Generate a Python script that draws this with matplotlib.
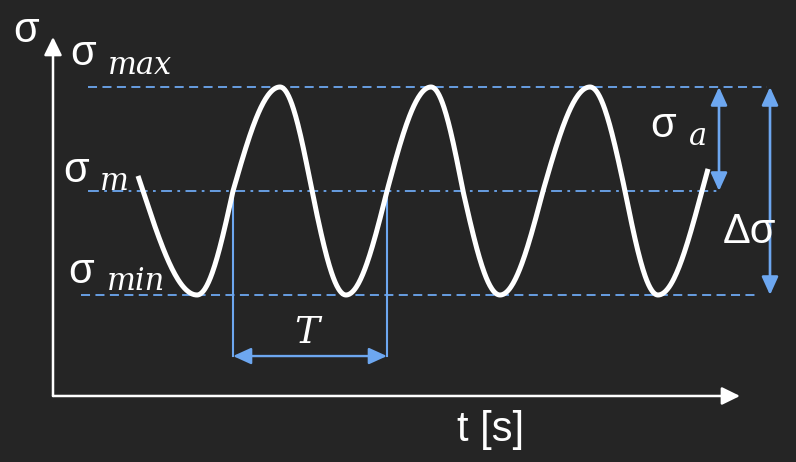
import matplotlib.pyplot as plt
import numpy as np
from matplotlib.patches import FancyArrowPatch, ArrowStyle

# puntos clave de la onda (tiempo, tension): extremos y cruces con sigma_m
wave_t = [143, 197, 233, 280, 312, 346, 387, 431, 463, 500, 543, 590, 625, 658, 702]
wave_s = [0, -1, 0, 1, 0, -1, 0, 1, 0, -1, 0, 1, 0, -1, 0]
t_start, t_stop = 138, 708

sigma_max, sigma_m, sigma_min = 1.0, 0.0, -1.0
T_start, T_end = 233, 387

bg = '#252525'
blue = '#6DA7F0'
white = 'white'


def quarter(t0, t1, s0, s1, t):
    # cuarto de seno entre un cruce y un extremo (o al reves)
    if s0 == 0:
        return s1 * np.sin((t - t0) / (t1 - t0) * np.pi / 2)
    return s0 * np.cos((t - t0) / (t1 - t0) * np.pi / 2)


tt, ss = [], []
for i in range(len(wave_t) - 1):
    t0, t1 = wave_t[i], wave_t[i + 1]
    a = t_start if i == 0 else t0
    b = t_stop if i == len(wave_t) - 2 else t1
    t = np.linspace(a, b, 60)
    s = quarter(t0, t1, wave_s[i], wave_s[i + 1], t)
    if i == len(wave_t) - 2:
        # ultimo tramo: sube desde el minimo y pasa un poco el cruce
        s = np.where(t > t1, np.sin((t - t1) / (t1 - t0) * np.pi / 2), s)
    tt.append(t)
    ss.append(s)
tt = np.concatenate(tt)
ss = np.concatenate(ss)

fig = plt.figure(figsize=(7.96, 4.62), dpi=100, facecolor=bg)
ax = fig.add_axes([0, 0, 1, 1])
ax.set_facecolor(bg)
ax.set_xlim(0, 796)
ax.set_ylim(-2.6058, 1.8365)
ax.axis('off')

# ejes con flechas
t0_axis, s0_axis = 53, -1.971
t_arrow, s_arrow = 740, 1.481
ejes = ArrowStyle('-|>', head_length=11, head_width=5.4)
ax.add_patch(FancyArrowPatch((t0_axis, s0_axis), (t0_axis, s_arrow), arrowstyle=ejes,
                             mutation_scale=1, color=white, lw=1.8, shrinkA=0, shrinkB=0))
ax.add_patch(FancyArrowPatch((t0_axis, s0_axis), (t_arrow, s0_axis), arrowstyle=ejes,
                             mutation_scale=1, color=white, lw=1.8, shrinkA=0, shrinkB=0))

# lineas de referencia
ax.plot([88, 767], [sigma_max, sigma_max], color=blue, lw=1.3, ls=(0, (5, 3)))
ax.plot([88, 719], [sigma_m, sigma_m], color=blue, lw=1.3, ls=(0, (6, 3, 1.5, 3)))
ax.plot([81, 757], [sigma_min, sigma_min], color=blue, lw=1.3, ls=(0, (5, 3)))

# periodo T
s_T = -1.587
ax.plot([T_start, T_start], [sigma_m, s_T], color=blue, lw=1.5)
ax.plot([T_end, T_end], [sigma_m, s_T], color=blue, lw=1.5)
flecha = ArrowStyle('<|-|>', head_length=11, head_width=5)
ax.add_patch(FancyArrowPatch((T_start, s_T), (T_end, s_T), arrowstyle=flecha,
                             mutation_scale=1, color=blue, lw=1.7, shrinkA=0, shrinkB=0))

# amplitud y rango
ax.add_patch(FancyArrowPatch((719, sigma_max), (719, sigma_m), arrowstyle=flecha,
                             mutation_scale=1, color=blue, lw=1.9, shrinkA=0, shrinkB=0))
ax.add_patch(FancyArrowPatch((770, sigma_max), (770, sigma_min), arrowstyle=flecha,
                             mutation_scale=1, color=blue, lw=1.9, shrinkA=0, shrinkB=0))

# la onda
ax.plot(tt, ss, color=white, lw=3.6, solid_capstyle='butt', zorder=5)

# textos
sans = dict(family='Liberation Sans', color=white, fontsize=30, va='baseline', ha='left')
ital = dict(family='DejaVu Serif', style='italic', color=white, fontsize=22, va='baseline', ha='left')
ax.text(13, 1.433, 'σ', **sans)
ax.text(70, 1.212, 'σ', **sans)
ax.text(108, 1.125, 'max', **ital)
ax.text(63, 0.087, 'σ', **sans)
ax.text(100, 0.0096, 'm', **ital)
ax.text(68, -0.885, 'σ', **sans)
ax.text(107, -0.952, 'min', **ital)
ax.text(650, 0.519, 'σ', **sans)
ax.text(689, 0.442, 'a', **ital)
ax.text(723, -0.5, 'Δσ', **sans)
ax.text(307, -1.4615, 'T', family='DejaVu Serif', style='italic', color=white,
        fontsize=27, va='baseline', ha='center')
ax.text(457, -2.404, 't [s]', **sans)

plt.savefig('out.png', dpi=100, facecolor=bg)
